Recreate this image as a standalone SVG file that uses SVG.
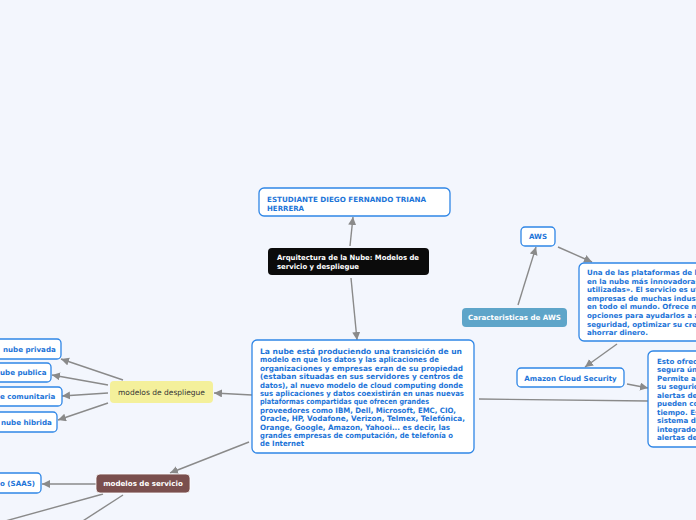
<svg xmlns="http://www.w3.org/2000/svg" width="696" height="520" viewBox="0 0 696 520">
<defs>
<marker id="ah" markerUnits="userSpaceOnUse" markerWidth="10" markerHeight="10" refX="8" refY="4" orient="auto">
<path d="M0,0 L8,4 L0,8 Z" fill="#8a8a8a"/>
</marker>
<style>
.bg{fill:#f3f6fd}
.bx{fill:#ffffff;stroke:#2f86e6;stroke-width:1.3}
.bt{font-family:"DejaVu Sans",Verdana,sans-serif;font-weight:bold;font-size:7.1px;fill:#1c74d8}
.mt{font-family:"DejaVu Sans",Verdana,sans-serif;font-weight:bold;font-size:7.4px;fill:#1c74d8}
.wt{font-family:"DejaVu Sans",Verdana,sans-serif;font-weight:bold;font-size:7.1px;fill:#ffffff}
.dt{font-family:"DejaVu Sans",Verdana,sans-serif;font-size:7.5px;fill:#333333}
.ln{stroke:#8a8a8a;stroke-width:1.4;fill:none}
.ar{stroke:#8a8a8a;stroke-width:1.4;fill:none;marker-end:url(#ah)}
</style>
</defs>
<rect class="bg" x="0" y="0" width="696" height="520"/>

<g id="connectors">
<line class="ar" x1="350" y1="246" x2="353" y2="217"/>
<line class="ar" x1="351" y1="278" x2="357" y2="340"/>
<line class="ar" x1="252" y1="395" x2="214" y2="393"/>
<line class="ar" x1="123" y1="380" x2="61" y2="359"/>
<line class="ar" x1="108" y1="385" x2="52" y2="375"/>
<line class="ar" x1="108" y1="393" x2="62" y2="396"/>
<line class="ar" x1="108" y1="403" x2="58" y2="420"/>
<line class="ar" x1="249" y1="442" x2="170" y2="473"/>
<line class="ar" x1="96" y1="484" x2="42" y2="484"/>
<line class="ln" x1="103" y1="494" x2="-20" y2="528"/>
<line class="ln" x1="123" y1="495" x2="75" y2="526"/>
<line class="ar" x1="518" y1="305" x2="536" y2="247"/>
<line class="ar" x1="558" y1="247" x2="592" y2="262"/>
<line class="ar" x1="617" y1="344" x2="585" y2="367"/>
<line class="ar" x1="627" y1="384" x2="648" y2="388"/>
<line class="ln" x1="479" y1="399" x2="648" y2="401"/>
</g>

<g id="estudiante">
<rect class="bx" x="259" y="188" width="191" height="28" rx="5"/>
<text class="bt" x="267" y="202" textLength="159" lengthAdjust="spacingAndGlyphs">ESTUDIANTE DIEGO FERNANDO TRIANA</text>
<text class="bt" x="267" y="210.6" textLength="37" lengthAdjust="spacingAndGlyphs">HERRERA</text>
</g>

<g id="arquitectura">
<rect x="268" y="248" width="161" height="27" rx="4" fill="#0b0b0b"/>
<text class="wt" x="277" y="260" textLength="142" lengthAdjust="spacingAndGlyphs">Arquitectura de la Nube: Modelos de</text>
<text class="wt" x="277" y="268.6" textLength="82" lengthAdjust="spacingAndGlyphs">servicio y despliegue</text>
</g>

<g id="nube-central">
<rect class="bx" x="252" y="340" width="222" height="113" rx="5"/>
<text class="mt" x="260" y="354" textLength="202" lengthAdjust="spacingAndGlyphs">La nube está produciendo una transición de un</text>
<text class="mt" x="260" y="362.4" textLength="179" lengthAdjust="spacingAndGlyphs">modelo en que los datos y las aplicaciones de</text>
<text class="mt" x="260" y="370.8" textLength="203" lengthAdjust="spacingAndGlyphs">organizaciones y empresas eran de su propiedad</text>
<text class="mt" x="260" y="379.2" textLength="203" lengthAdjust="spacingAndGlyphs">(estaban situadas en sus servidores y centros de</text>
<text class="mt" x="260" y="387.6" textLength="203" lengthAdjust="spacingAndGlyphs">datos), al nuevo modelo de cloud computing donde</text>
<text class="mt" x="260" y="396" textLength="204" lengthAdjust="spacingAndGlyphs">sus aplicaciones y datos coexistirán en unas nuevas</text>
<text class="mt" x="260" y="404.4" textLength="169" lengthAdjust="spacingAndGlyphs">plataformas compartidas que ofrecen grandes</text>
<text class="mt" x="260" y="412.8" textLength="196" lengthAdjust="spacingAndGlyphs">proveedores como IBM, Dell, Microsoft, EMC, CIO,</text>
<text class="mt" x="260" y="421.2" textLength="205" lengthAdjust="spacingAndGlyphs">Oracle, HP, Vodafone, Verizon, Telmex, Telefónica,</text>
<text class="mt" x="260" y="429.6" textLength="190" lengthAdjust="spacingAndGlyphs">Orange, Google, Amazon, Yahooi... es decir, las</text>
<text class="mt" x="260" y="438" textLength="193" lengthAdjust="spacingAndGlyphs">grandes empresas de computación, de telefonía o</text>
<text class="mt" x="260" y="446.4" textLength="44" lengthAdjust="spacingAndGlyphs">de Internet</text>
</g>

<g id="modelos-despliegue">
<rect x="110" y="381" width="103" height="22" rx="4" fill="#f4f09b"/>
<text class="dt" x="161.5" y="395" text-anchor="middle">modelos de despliegue</text>
</g>

<g id="nube-privada">
<rect class="bx" x="-20" y="339" width="81" height="20" rx="4"/>
<text class="bt" x="3" y="351.5">nube privada</text>
</g>
<g id="nube-publica">
<rect class="bx" x="-20" y="363" width="71" height="19" rx="4"/>
<text class="bt" x="0" y="375">ube publica</text>
</g>
<g id="nube-comunitaria">
<rect class="bx" x="-20" y="387" width="82" height="19" rx="4"/>
<text class="bt" x="0" y="399">e comunitaria</text>
</g>
<g id="nube-hibrida">
<rect class="bx" x="-20" y="412" width="77" height="20" rx="4"/>
<text class="bt" x="1" y="424.5">nube hibrida</text>
</g>

<g id="modelos-servicio">
<rect x="96" y="474" width="94" height="19" rx="4" fill="#7a4f4e" stroke="#ffffff" stroke-width="0.8"/>
<text class="wt" x="143" y="486" text-anchor="middle">modelos de servicio</text>
</g>
<g id="saas">
<rect class="bx" x="-20" y="473" width="61" height="20" rx="4"/>
<text class="bt" x="0" y="485.5">o (SAAS)</text>
</g>

<g id="aws">
<rect class="bx" x="521" y="227" width="34" height="19" rx="4"/>
<text class="bt" x="538" y="239" text-anchor="middle">AWS</text>
</g>
<g id="caracteristicas">
<rect x="462" y="308" width="105" height="19" rx="4" fill="#5ea5c9"/>
<text class="wt" x="514.5" y="320" text-anchor="middle">Caracteristicas de AWS</text>
</g>
<g id="plataformas">
<rect class="bx" x="579" y="263" width="140" height="78" rx="5"/>
<text class="bt" x="587" y="275">Una de las plataformas de b<tspan x="587" dy="8.6">en la nube más innovadoras</tspan><tspan x="587" dy="8.6">utilizadas». El servicio es ut</tspan><tspan x="587" dy="8.6">empresas de muchas indust</tspan><tspan x="587" dy="8.6">en todo el mundo. Ofrece m</tspan><tspan x="587" dy="8.6">opciones para ayudarlos a a</tspan><tspan x="587" dy="8.6">seguridad, optimizar su crec</tspan><tspan x="587" dy="8.6">ahorrar dinero.</tspan></text>
</g>
<g id="amazon-cloud-security">
<rect class="bx" x="517" y="368" width="107" height="19" rx="4"/>
<text class="bt" x="570.5" y="380.5" text-anchor="middle">Amazon Cloud Security</text>
</g>
<g id="esto-ofrece">
<rect class="bx" x="648" y="351" width="70" height="96" rx="5"/>
<text class="bt" x="657" y="363.5">Esto ofrec<tspan x="657" dy="8.5">segura ún</tspan><tspan x="657" dy="8.5">Permite a</tspan><tspan x="657" dy="8.5">su seguric</tspan><tspan x="657" dy="8.5">alertas de</tspan><tspan x="657" dy="8.5">pueden co</tspan><tspan x="657" dy="8.5">tiempo. Es</tspan><tspan x="657" dy="8.5">sistema de</tspan><tspan x="657" dy="8.5">integrado</tspan><tspan x="657" dy="8.5">alertas de</tspan></text>
</g>
</svg>
